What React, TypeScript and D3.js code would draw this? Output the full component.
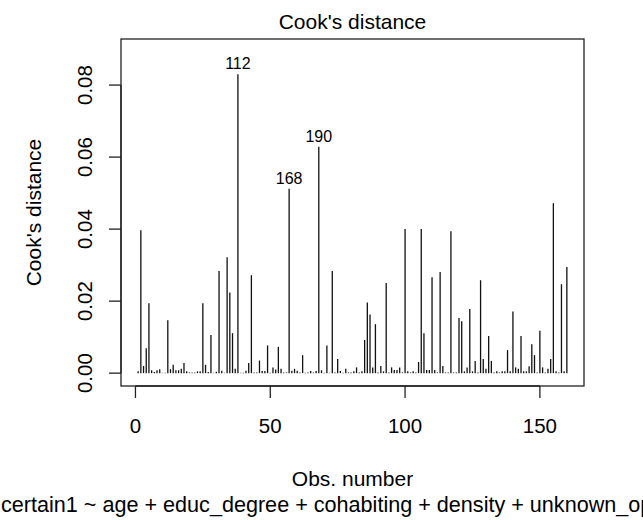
import React from "react";
import * as d3 from "d3";

const cookValues: number[] = [
  0.0005, 0.0397, 0.0020, 0.0069, 0.0194, 0.0008, 0.0003, 0.0008, 0.0011, 0.0001,
  0.0001, 0.0147, 0.0011, 0.0023, 0.0008, 0.0008, 0.0012, 0.0028, 0.0005, 0.0002,
  0.0002, 0.0002, 0.0005, 0.0005, 0.0194, 0.0023, 0.0003, 0.0106, 0.0001, 0.0004,
  0.0284, 0.0007, 0.0001, 0.0322, 0.0224, 0.0111, 0.0012, 0.0830, 0.0001, 0.0001,
  0.0007, 0.0028, 0.0272, 0.0002, 0.0002, 0.0035, 0.0006, 0.0006, 0.0077, 0.0001,
  0.0016, 0.0010, 0.0073, 0.0012, 0.0002, 0.0002, 0.0512, 0.0007, 0.0012, 0.0007,
  0.0002, 0.0050, 0.0001, 0.0002, 0.0006, 0.0002, 0.0006, 0.0629, 0.0008, 0.0001,
  0.0077, 0.0001, 0.0284, 0.0002, 0.0039, 0.0006, 0.0001, 0.0012, 0.0002, 0.0002,
  0.0005, 0.0016, 0.0002, 0.0005, 0.0092, 0.0196, 0.0163, 0.0016, 0.0136, 0.0002,
  0.0020, 0.0005, 0.0250, 0.0002, 0.0016, 0.0009, 0.0009, 0.0016, 0.0002, 0.0400,
  0.0005, 0.0002, 0.0005, 0.0002, 0.0031, 0.0400, 0.0111, 0.0009, 0.0009, 0.0266,
  0.0009, 0.0002, 0.0281, 0.0020, 0.0002, 0.0002, 0.0394, 0.0002, 0.0002, 0.0153,
  0.0144, 0.0005, 0.0016, 0.0178, 0.0005, 0.0034, 0.0002, 0.0258, 0.0039, 0.0012,
  0.0103, 0.0034, 0.0002, 0.0005, 0.0002, 0.0005, 0.0005, 0.0064, 0.0005, 0.0171,
  0.0016, 0.0012, 0.0103, 0.0005, 0.0005, 0.0019, 0.0080, 0.0050, 0.0002, 0.0118,
  0.0016, 0.0002, 0.0012, 0.0039, 0.0472, 0.0005, 0.0002, 0.0247, 0.0005, 0.0295,
];

const labelledObs: number[] = [38, 57, 68];
const labelledNames: string[] = ["112", "168", "190"];

const xTicks: number[] = [0, 50, 100, 150];
const yTicks: number[] = [0, 0.02, 0.04, 0.06, 0.08];

const titleText = "Cook's distance";
const xLabel = "Obs. number";
const yLabel = "Cook's distance";
const subCaption = "certain1 ~ age + educ_degree + cohabiting + density + unknown_op";

const W = 643;
const H = 520;
const left = 121;
const right = 584;
const top = 39;
const bottom = 386;
const FONT = "'Liberation Sans', Arial, sans-serif";

export default function App() {
  const n = cookValues.length;
  const xExt = (n - 1) * 0.04;
  const x = d3.scaleLinear().domain([1 - xExt, n + xExt]).range([left, right]);
  const yMax = (d3.max(cookValues) as number) * 1.075;
  const y = d3.scaleLinear().domain([-yMax * 0.04, yMax * 1.04]).range([bottom, top]);
  const fmt = d3.format(".2f");
  const tick = 12;

  return (
    <svg
      width={W}
      height={H}
      style={{ position: "absolute", left: 0, top: 0, background: "#fff" }}
      fontFamily={FONT}
    >
      <rect x={0} y={0} width={W} height={H} fill="#fff" />
      <text x={(left + right) / 2} y={29} textAnchor="middle" fontSize={21} fill="#000">
        {titleText}
      </text>
      {cookValues.map((v, i) => (
        <line
          key={i}
          x1={x(i + 1)}
          x2={x(i + 1)}
          y1={y(0)}
          y2={y(v)}
          stroke="#111"
          strokeWidth={1.3}
        />
      ))}
      {labelledObs.map((o, k) => (
        <text
          key={k}
          x={x(o)}
          y={y(cookValues[o - 1]) - 5}
          textAnchor="middle"
          fontSize={16}
          fill="#000"
        >
          {labelledNames[k]}
        </text>
      ))}
      <rect
        x={left}
        y={top}
        width={right - left}
        height={bottom - top}
        fill="none"
        stroke="#222"
        strokeWidth={1.3}
      />
      {/* x axis */}
      <line x1={x(xTicks[0])} x2={x(xTicks[xTicks.length - 1])} y1={bottom} y2={bottom} stroke="#222" strokeWidth={1.3} />
      {xTicks.map((t) => (
        <g key={t}>
          <line x1={x(t)} x2={x(t)} y1={bottom} y2={bottom + tick} stroke="#222" strokeWidth={1.3} />
          <text x={x(t)} y={433} textAnchor="middle" fontSize={20.5} fill="#000">
            {t}
          </text>
        </g>
      ))}
      {/* y axis */}
      <line x1={left} x2={left} y1={y(yTicks[0])} y2={y(yTicks[yTicks.length - 1])} stroke="#222" strokeWidth={1.3} />
      {yTicks.map((t) => (
        <g key={t}>
          <line x1={left - tick} x2={left} y1={y(t)} y2={y(t)} stroke="#222" strokeWidth={1.3} />
          <text
            transform={`translate(${92},${y(t)}) rotate(-90)`}
            textAnchor="middle"
            fontSize={20.5}
            fill="#000"
          >
            {fmt(t)}
          </text>
        </g>
      ))}
      <text x={(left + right) / 2} y={486} textAnchor="middle" fontSize={21} fill="#000">
        {xLabel}
      </text>
      <text
        transform={`translate(${41},${(top + bottom) / 2}) rotate(-90)`}
        textAnchor="middle"
        fontSize={21}
        fill="#000"
      >
        {yLabel}
      </text>
      <text x={1} y={512} textAnchor="start" fontSize={21.6} fill="#000">
        {subCaption}
      </text>
    </svg>
  );
}
